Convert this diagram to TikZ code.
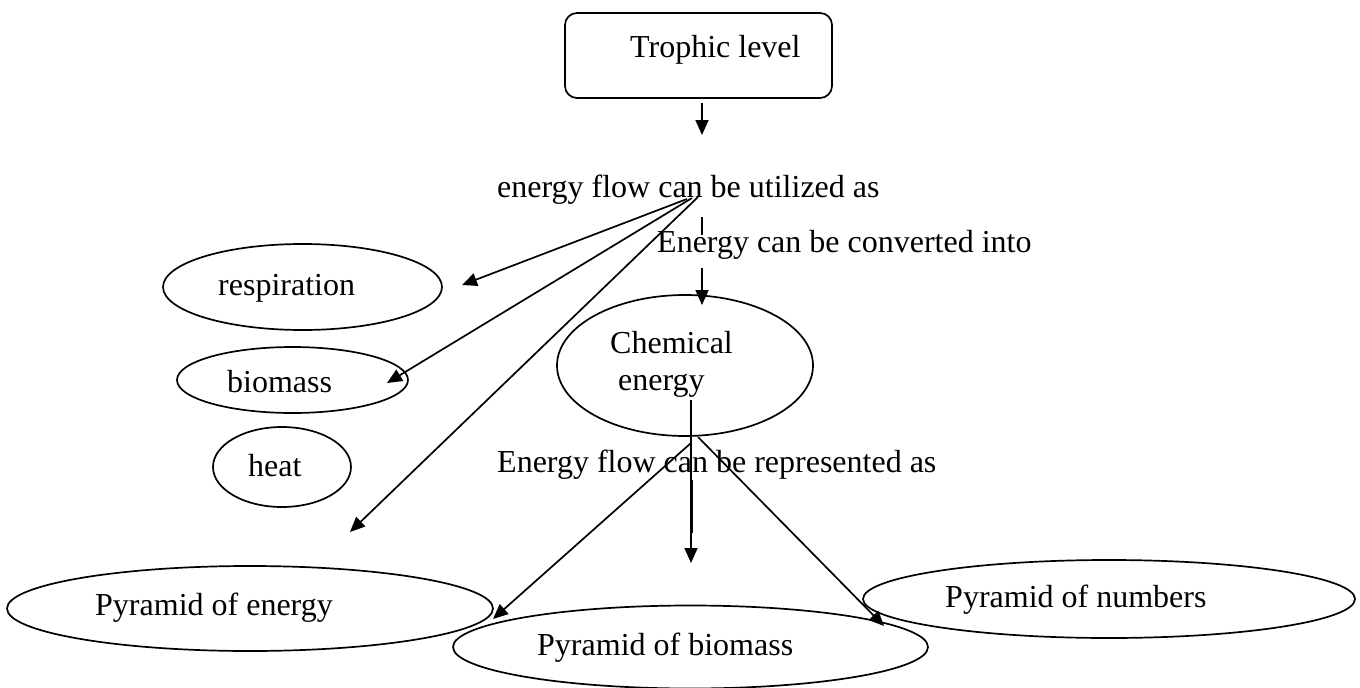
\documentclass[tikz,border=0pt]{standalone}
\usepackage{fontspec}
\setmainfont{Liberation Serif}
\usetikzlibrary{shapes.geometric,arrows.meta}
\tikzset{
  ln/.style={line width=1.7pt},
  arr/.style={ln,-{Triangle[length=15pt,width=13pt]}},
  oval/.style={draw,ellipse,line width=1.7pt,inner sep=0pt},
  txt/.style={anchor=base west,inner sep=0pt,font=\fontsize{32}{38}\selectfont},
}
\begin{document}
\begin{tikzpicture}[x=1pt,y=-1pt]
\useasboundingbox (0,0) rectangle (1360,688);

% heading box
\node[draw,rounded corners=12pt,line width=1.7pt,minimum width=267pt,
      minimum height=85pt,inner sep=0pt] (troph) at (698.5,55.5) {};
\node[txt] (trophT) at (630,57) {Trophic level};

% linking phrases
\node[txt] (util) at (497,197) {energy flow can be utilized as};
\node[txt] (conv) at (657,252) {Energy can be converted into};
\node[txt] (repr) at (497,472) {Energy flow can be represented as};

% ovals
\node[oval,minimum width=279pt,minimum height=86pt] (resp) at (302.5,287) {};
\node[txt] (respT) at (218,295) {respiration};
\node[oval,minimum width=231pt,minimum height=66pt] (bio) at (292.5,380) {};
\node[txt] (bioT) at (227,392) {biomass};
\node[oval,minimum width=138pt,minimum height=80pt] (heat) at (282,467) {};
\node[txt] (heatT) at (248,476) {heat};
\node[oval,minimum width=256pt,minimum height=141pt] (chem) at (685,365.5) {};
\node[txt] (chemT1) at (610,353) {Chemical};
\node[txt] (chemT2) at (618,390) {energy};
\node[oval,minimum width=486pt,minimum height=85pt] (pen) at (250,608.5) {};
\node[txt] (penT) at (95,615) {Pyramid of energy};
\node[oval,minimum width=475pt,minimum height=83pt] (pbio) at (690.5,647) {};
\node[txt] (pbioT) at (537,655) {Pyramid of biomass};
\node[oval,minimum width=492pt,minimum height=78pt] (pnum) at (1109,599) {};
\node[txt] (pnumT) at (945,607) {Pyramid of numbers};

% connector end points
\coordinate (a1s) at (702,103);  \coordinate (a1e) at (702,135);
\coordinate (u1) at (687,199);   \coordinate (r1) at (462,285);
\coordinate (u2) at (692,198);   \coordinate (b1) at (387,383);
\coordinate (u3) at (698,197);   \coordinate (h1) at (350,532);
\coordinate (t1) at (702,217);   \coordinate (t2) at (702,235);
\coordinate (a2s) at (702,268);  \coordinate (a2e) at (702,305);
\coordinate (c0) at (691,400);   \coordinate (c1) at (691,563);
\coordinate (d1) at (691.8,480); \coordinate (d2) at (691.8,533);
\coordinate (cl) at (691,443);   \coordinate (el) at (493,619);
\coordinate (cr) at (698,437);   \coordinate (er) at (884,626);

% connectors
\draw[arr] (a1s) -- (a1e);
\draw[arr] (u1) -- (r1);
\draw[arr] (u2) -- (b1);
\draw[arr] (u3) -- (h1);
\draw[ln] (t1) -- (t2);
\draw[arr] (a2s) -- (a2e);
\draw[arr] (c0) -- (c1);
\draw[ln] (d1) -- (d2);
\draw[arr] (cl) -- (el);
\draw[arr] (cr) -- (er);
\end{tikzpicture}
\end{document}
